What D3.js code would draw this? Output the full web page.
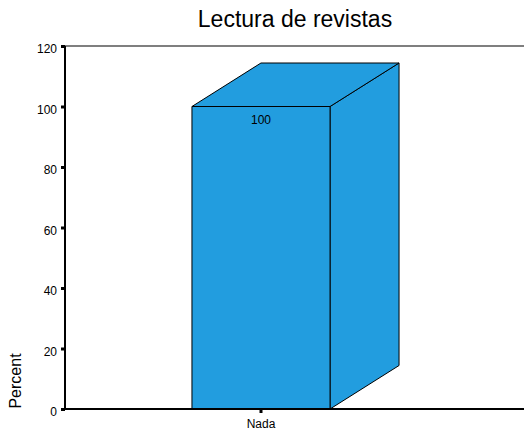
<!DOCTYPE html>
<html><head><meta charset="utf-8">
<script src="https://cdn.jsdelivr.net/npm/d3@7"></script>
<style>body{margin:0;background:#fff}svg{display:block;font-family:"Liberation Sans",Arial,sans-serif}</style>
</head><body><svg id="c" width="524" height="432"></svg>
<script>
const categories = ["Nada"];
const percents = [100];
const yTicks = [0, 20, 40, 60, 80, 100, 120];
const title = "Lectura de revistas";
const yLabel = "Percent";

(function () {
const svg = d3.select("#c");
const mLeft = 65, mRight = 524, mTop = 46, mBottom = 409;
const y = d3.scaleLinear().domain([0, 120]).range([mBottom, mTop]);
const x = d3.scaleBand().domain(categories).range([mLeft, 457]).padding(0.479);
const dx = 69, dy = -43.5;
const fill = "#229ddf";

svg.append("line").attr("x1", mLeft).attr("x2", mRight).attr("y1", mTop).attr("y2", mTop).attr("stroke", "#000").attr("stroke-width", 1.2);

categories.forEach((c, i) => {
  const x0 = x(c), x1 = x(c) + x.bandwidth(), yt = y(percents[i]), yb = y(0);
  const g = svg.append("g").attr("stroke", "#000").attr("stroke-width", 1).attr("stroke-linejoin", "round").attr("fill", fill);
  g.append("path").attr("d", `M${x1},${yb}L${x1 + dx},${yb + dy}L${x1 + dx},${yt + dy}L${x1},${yt}Z`);
  g.append("path").attr("d", `M${x0},${yt}L${x0 + dx},${yt + dy}L${x1 + dx},${yt + dy}L${x1},${yt}Z`);
  g.append("rect").attr("x", x0).attr("y", yt).attr("width", x1 - x0).attr("height", yb - yt);
  svg.append("text").attr("x", x0 + x.bandwidth() / 2).attr("y", yt + 17).attr("text-anchor", "middle")
    .attr("font-size", 12).attr("fill", "#000").text(percents[i]);
});

const ya = svg.append("g").attr("transform", `translate(${mLeft},0)`)
  .call(d3.axisLeft(y).tickValues(yTicks).tickSize(4).tickPadding(4));
ya.select(".domain").attr("stroke-width", 2).attr("d", `M0,${mBottom}V${mTop}`);
ya.selectAll(".tick line").attr("stroke-width", 3);
ya.selectAll(".tick text").attr("font-size", 12).attr("font-family", "Liberation Sans, Arial, sans-serif").attr("fill", "#000").attr("dy", "0.55em");

const xa = svg.append("g").attr("transform", `translate(0,${mBottom})`)
  .call(d3.axisBottom(x).tickSize(4).tickPadding(6));
xa.select(".domain").attr("stroke-width", 2).attr("d", `M${mLeft},0H${mRight}`);
xa.selectAll(".tick line").attr("stroke-width", 3);
xa.selectAll(".tick text").attr("font-size", 12).attr("font-family", "Liberation Sans, Arial, sans-serif").attr("fill", "#000");

svg.append("text").attr("x", 295).attr("y", 27).attr("text-anchor", "middle").attr("font-size", 23).attr("fill", "#000").text(title);
svg.append("text").attr("transform", "translate(21,381) rotate(-90)").attr("text-anchor", "middle")
  .attr("font-size", 16).attr("fill", "#000").text(yLabel);
})();
</script></body></html>
